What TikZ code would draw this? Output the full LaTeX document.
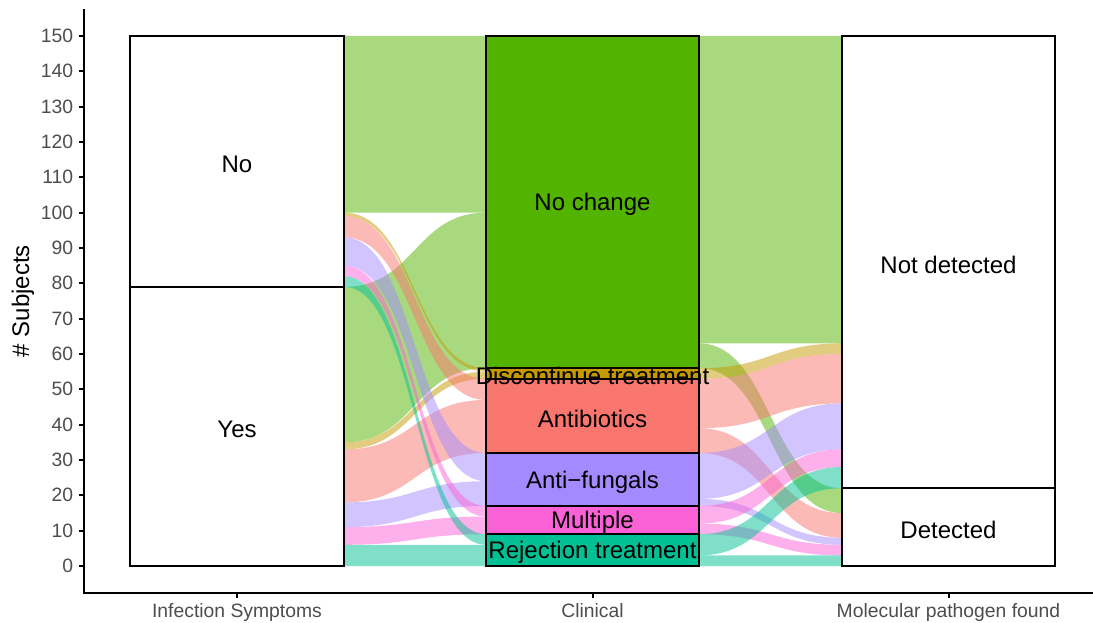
\documentclass[tikz,border=0pt]{standalone}
\usepackage{fontspec}
\setmainfont{Liberation Sans}
\usepackage{tikz}
\usetikzlibrary{positioning}
\usepackage{xcolor}

%% ggplot hue palette
\definecolor{nochange}{HTML}{53B400}
\definecolor{discont}{HTML}{C49A00}
\definecolor{antibio}{HTML}{F8766D}
\definecolor{antifung}{HTML}{A58AFF}
\definecolor{multiple}{HTML}{FB61D7}
\definecolor{rejection}{HTML}{00C094}
\definecolor{axisgray}{HTML}{4D4D4D}

%% flow between two strata: x1, x2, top1, bot1, top2, bot2, colour
\newcommand{\alluvflow}[7]{%
  \fill[#7, flowfill] (#1,#3) .. controls ({(#1+#2)/2},#3) and ({(#1+#2)/2},#5) .. (#2,#5)
    -- (#2,#6) .. controls ({(#1+#2)/2},#6) and ({(#1+#2)/2},#4) .. (#1,#4) -- cycle;}

\tikzset{
  flowfill/.style={fill opacity=0.5},
  stratum/.style={draw=black, line width=1.3pt},
  axisline/.style={line width=1.5pt},
  ticklabel/.style={text=axisgray, font=\fontsize{14.5}{17}\selectfont, inner sep=0pt},
  titlelabel/.style={font=\fontsize{18}{21}\selectfont, inner sep=0pt},
  stratlabel/.style={titlelabel, yshift=-2pt},
}

\begin{document}
\begin{tikzpicture}[x=0.75pt, y=2.65pt]
  \useasboundingbox (0,-15.849) rectangle (1093,160.19);

  %% Flows: Infection Symptoms -> Clinical
  \foreach \a/\b/\c/\d/\col in {150/100/150/100/nochange, 79/35/100/56/nochange,
                                100/99/56/55/discont, 35/33/55/53/discont,
                                99/93/53/47/antibio, 33/18/47/32/antibio,
                                93/85/32/24/antifung, 18/11/24/17/antifung,
                                85/82/17/14/multiple, 11/6/14/9/multiple,
                                82/79/9/6/rejection, 6/0/6/0/rejection}{
    \alluvflow{344}{486}{\a}{\b}{\c}{\d}{\col}
  }

  %% Flows: Clinical -> Molecular pathogen found
  \foreach \a/\b/\c/\d/\col in {150/63/150/63/nochange, 63/56/22/15/nochange,
                                56/53/63/60/discont,
                                53/39/60/46/antibio, 39/32/15/8/antibio,
                                32/19/46/33/antifung, 19/17/8/6/antifung,
                                17/12/33/28/multiple, 12/9/6/3/multiple,
                                9/3/28/22/rejection, 3/0/3/0/rejection}{
    \alluvflow{699}{842}{\a}{\b}{\c}{\d}{\col}
  }

  %% Strata: Infection Symptoms
  \draw[stratum, fill=white] (130,79) rectangle (344,150);
  \draw[stratum, fill=white] (130,0) rectangle (344,79);
  \node[stratlabel] (no) at (237,114.5) {No};
  \node[stratlabel] (yes) at (237,39.5) {Yes};

  %% Strata: Clinical
  \draw[stratum, fill=nochange] (486,56) rectangle (699,150);
  \draw[stratum, fill=discont] (486,53) rectangle (699,56);
  \draw[stratum, fill=antibio] (486,32) rectangle (699,53);
  \draw[stratum, fill=antifung] (486,17) rectangle (699,32);
  \draw[stratum, fill=multiple] (486,9) rectangle (699,17);
  \draw[stratum, fill=rejection] (486,0) rectangle (699,9);
  \node[stratlabel] (nochg) at (592.5,103) {No change};
  \node[stratlabel] (disc) at (592.5,54.5) {Discontinue treatment};
  \node[stratlabel] (abio) at (592.5,42.5) {Antibiotics};
  \node[stratlabel] (afung) at (592.5,24.5) {Anti−fungals};
  \node[stratlabel] (multi) at (592.5,13) {Multiple};
  \node[stratlabel] (rej) at (592.5,4.5) {Rejection treatment};

  %% Strata: Molecular pathogen found
  \draw[stratum, fill=white] (842,22) rectangle (1055,150);
  \draw[stratum, fill=white] (842,0) rectangle (1055,22);
  \node[stratlabel] (notdet) at (948.5,86) {Not detected};
  \node[stratlabel] (det) at (948.5,11) {Detected};

  %% Axes
  \draw[axisline] (84,157.5) -- (84,-7.5) -- (1093,-7.5);
  \foreach \v in {0,10,...,150}{
    \draw[axisline] (78.5,\v) -- (84,\v);
    \node[ticklabel, anchor=east] at (73.5,\v) {\v};
  }
  \foreach \x/\lab in {237/Infection Symptoms, 592.5/Clinical, 948.5/Molecular pathogen found}{
    \draw[axisline] (\x,-7.5) -- (\x,-9.1);
    \node[ticklabel, anchor=base] at (\x,-14.5) {\lab};
  }
  \node[titlelabel, rotate=90] (ytitle) at (23,75) {\# Subjects};
\end{tikzpicture}
\end{document}
